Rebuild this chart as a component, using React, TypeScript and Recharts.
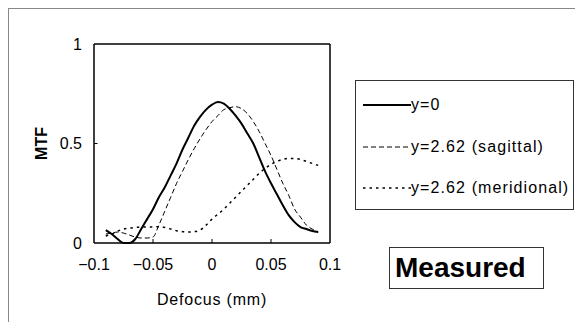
import React from 'react';
import { LineChart, Line, XAxis, YAxis, ReferenceLine } from 'recharts';

const defocus = [
  -0.09, -0.085, -0.08, -0.075, -0.07, -0.065, -0.06, -0.055, -0.05, -0.045,
  -0.04, -0.035, -0.03, -0.025, -0.02, -0.015, -0.01, -0.005, 0, 0.005,
  0.01, 0.015, 0.02, 0.025, 0.03, 0.035, 0.04, 0.045, 0.05, 0.055,
  0.06, 0.065, 0.07, 0.075, 0.08, 0.085, 0.09,
];

const mtfOnAxis = [
  0.065, 0.045, 0.02, 0.0, 0.0, 0.02, 0.07, 0.12, 0.17, 0.23,
  0.28, 0.34, 0.4, 0.47, 0.53, 0.59, 0.635, 0.67, 0.695, 0.708,
  0.7, 0.675, 0.64, 0.6, 0.55, 0.5, 0.43, 0.36, 0.3, 0.245,
  0.19, 0.14, 0.105, 0.08, 0.07, 0.06, 0.055,
];

const mtfSagittal = [
  0.045, 0.05, 0.055, 0.05, 0.04, 0.03, 0.025, 0.025, 0.03, 0.09,
  0.16, 0.23, 0.3, 0.36, 0.42, 0.475, 0.525, 0.57, 0.61, 0.64,
  0.67, 0.68, 0.685, 0.675, 0.65, 0.61, 0.56, 0.5, 0.44, 0.37,
  0.3, 0.24, 0.17, 0.13, 0.09, 0.07, 0.055,
];

const mtfMeridional = [
  0.035, 0.045, 0.06, 0.07, 0.075, 0.078, 0.08, 0.08, 0.08, 0.082,
  0.078, 0.07, 0.062, 0.057, 0.055, 0.057, 0.065, 0.09, 0.12, 0.145,
  0.17, 0.2, 0.23, 0.26, 0.29, 0.32, 0.35, 0.375, 0.395, 0.41,
  0.42, 0.425, 0.425, 0.42, 0.41, 0.4, 0.39,
];

const xTicks = [-0.1, -0.05, 0, 0.05, 0.1];
const yTicks = [0, 0.5, 1];
const xInnerTicks = [-0.05, 0, 0.05];
const yInnerTicks = [0.5];

const seriesInfo = [
  { key: 'y0', label: 'y=0', dash: undefined as string | undefined, width: 2 },
  { key: 'sag', label: 'y=2.62 (sagittal)', dash: '5 3', width: 1 },
  { key: 'mer', label: 'y=2.62 (meridional)', dash: '2.5 4', width: 1.5 },
];

const data = defocus.map((x, i) => ({
  x,
  y0: mtfOnAxis[i],
  sag: mtfSagittal[i],
  mer: mtfMeridional[i],
}));

const font = '"Liberation Sans", Arial, sans-serif';

const fmtX = (v: number) => (v < 0 ? '\u2212' + String(-v) : String(v));

const LegendBox = () => (
  <div
    style={{
      position: 'absolute',
      left: 355,
      top: 80,
      width: 219,
      height: 130,
      border: '1px solid #333',
      background: '#fff',
      fontFamily: font,
      fontSize: 16,
      letterSpacing: 1.1,
      color: '#000',
      boxSizing: 'border-box',
    }}
  >
    {seriesInfo.map((s, i) => (
      <div
        key={s.key}
        style={{ position: 'absolute', left: 0, top: 14 + i * 41.5, height: 20, display: 'flex', alignItems: 'center' }}
      >
        <svg width={48} height={10} style={{ marginLeft: 7 }}>
          <line x1={0} y1={5} x2={48} y2={5} stroke="#000" strokeWidth={s.width} strokeDasharray={s.dash} />
        </svg>
        <span style={{ whiteSpace: 'nowrap' }}>{s.label}</span>
      </div>
    ))}
  </div>
);

const MtfLabel = (props: any) => {
  const vb = props.viewBox || {};
  const cy = (vb.y || 0) + (vb.height || 0) / 2;
  return (
    <text x={41} y={cy} transform={`rotate(-90 41 ${cy})`} textAnchor="middle" dominantBaseline="central"
      fontSize={16} fontWeight="bold" fill="#000" fontFamily={font}>
      MTF
    </text>
  );
};

export default function App() {
  return (
    <div style={{ position: 'absolute', left: 0, top: 0, width: 581, height: 322, background: '#fff', overflow: 'hidden' }}>
      <div
        style={{
          position: 'absolute',
          left: 8,
          top: 8,
          width: 566,
          height: 320,
          borderLeft: '1px solid #888',
          borderTop: '1px solid #888',
        }}
      />
      <LineChart
        width={581}
        height={322}
        data={data}
        margin={{ top: 44, right: 251, bottom: 29, left: 34 }}
        style={{ fontFamily: font, position: 'absolute', left: 0, top: 0 }}
      >
        <XAxis
          dataKey="x"
          type="number"
          domain={[-0.1, 0.1]}
          ticks={xTicks}
          tickFormatter={fmtX}
          axisLine={{ stroke: '#000', strokeWidth: 1.5 }}
          tickLine={false}
          tickMargin={10}
          tick={{ fill: '#000', fontSize: 16 }}
          height={50}
          label={{ value: 'Defocus (mm)', position: 'insideBottom', offset: -12, fill: '#000', fontSize: 16, letterSpacing: 0.8 }}
        />
        <YAxis
          type="number"
          domain={[0, 1]}
          ticks={yTicks}
          axisLine={{ stroke: '#000', strokeWidth: 1.5 }}
          tickLine={false}
          tickMargin={6}
          tick={{ fill: '#000', fontSize: 16 }}
          width={60}
          label={<MtfLabel />}
        />
        <ReferenceLine y={1} stroke="#000" strokeWidth={1.5} ifOverflow="visible" />
        <ReferenceLine x={0.1} stroke="#000" strokeWidth={1.5} ifOverflow="visible" />
        {xInnerTicks.map((t) => (
          <ReferenceLine
            key={'xt' + t}
            segment={[{ x: t, y: 0 }, { x: t, y: 0.02 }]}
            stroke="#000"
            strokeWidth={1}
            ifOverflow="visible"
          />
        ))}
        {yInnerTicks.map((t) => (
          <ReferenceLine
            key={'yt' + t}
            segment={[{ x: -0.1, y: t }, { x: -0.097, y: t }]}
            stroke="#000"
            strokeWidth={1}
            ifOverflow="visible"
          />
        ))}
        {seriesInfo.map((s) => (
          <Line
            key={s.key}
            dataKey={s.key}
            name={s.label}
            type="monotone"
            stroke="#000"
            strokeWidth={s.width}
            strokeDasharray={s.dash}
            dot={false}
            isAnimationActive={false}
          />
        ))}
      </LineChart>
      <LegendBox />
      <div
        style={{
          position: 'absolute',
          left: 389,
          top: 247,
          width: 155,
          height: 42,
          border: '1px solid #333',
          boxSizing: 'border-box',
          fontFamily: font,
          fontWeight: 'bold',
          fontSize: 28,
          lineHeight: '40px',
          paddingLeft: 5,
          color: '#000',
        }}
      >
        Measured
      </div>
    </div>
  );
}
